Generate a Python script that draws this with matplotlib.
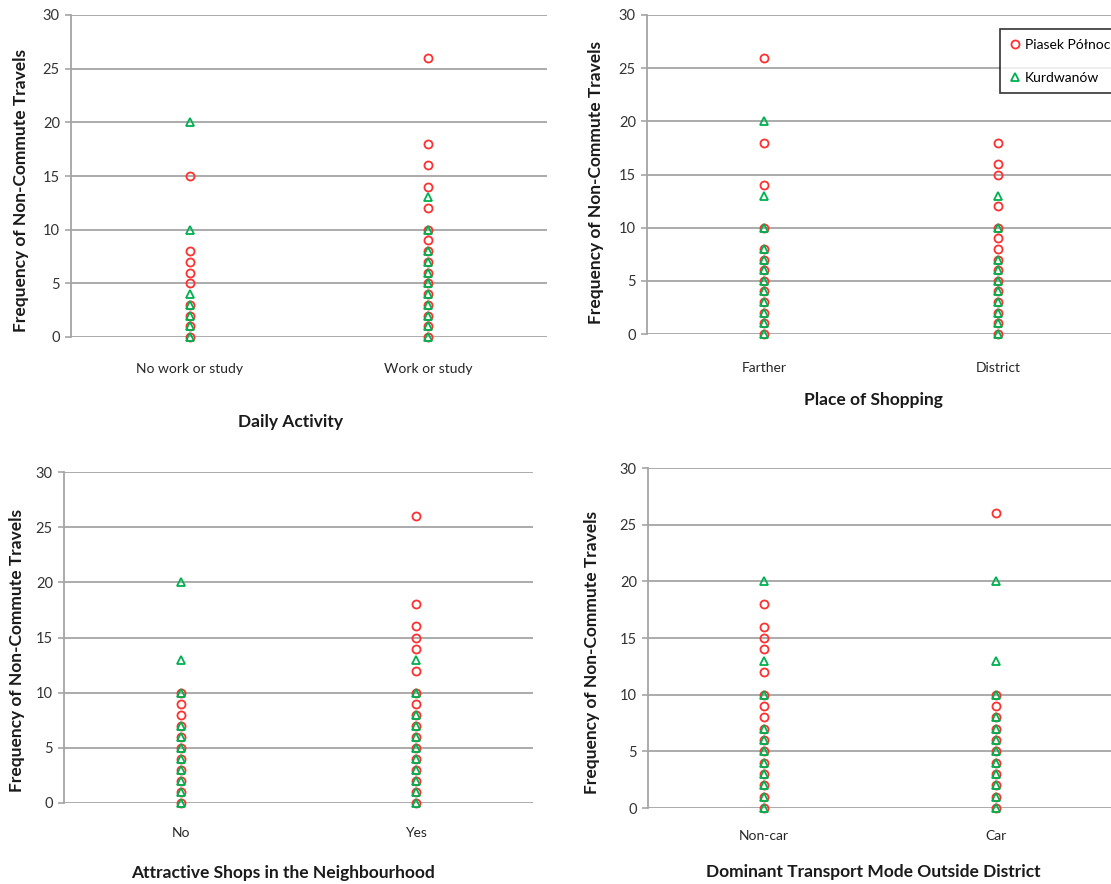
import matplotlib
matplotlib.use("Agg")
import matplotlib.pyplot as plt
from matplotlib.lines import Line2D

plt.rcParams['font.family'] = ['Lato', 'DejaVu Sans']

W, H = 1111, 884
RED = '#FF3030'
GREEN = '#00B050'
GRID = '#A5A5A5'

series_names = ['Piasek Północ', 'Kurdwanów']
y_label = 'Frequency of Non-Commute Travels'

# Panel 1: Daily Activity
p1_title = 'Daily Activity'
p1_categories = ['No work or study', 'Work or study']
p1_piasek = [[0, 1, 2, 3, 5, 6, 7, 8, 15],
             [0, 1, 2, 3, 4, 5, 6, 7, 8, 9, 10, 12, 14, 16, 18, 26]]
p1_kurdwanow = [[0, 1, 2, 3, 4, 10, 20],
                [0, 1, 2, 3, 4, 5, 6, 7, 8, 10, 13]]

# Panel 2: Place of Shopping
p2_title = 'Place of Shopping'
p2_categories = ['Farther', 'District']
p2_piasek = [[0, 1, 2, 3, 4, 5, 6, 7, 8, 10, 14, 18, 26],
             [0, 1, 2, 3, 4, 5, 6, 7, 8, 9, 10, 12, 15, 16, 18]]
p2_kurdwanow = [[0, 1, 2, 3, 4, 5, 6, 7, 8, 10, 13, 20],
                [0, 1, 2, 3, 4, 5, 6, 7, 10, 13]]

# Panel 3: Attractive Shops in the Neighbourhood
p3_title = 'Attractive Shops in the Neighbourhood'
p3_categories = ['No', 'Yes']
p3_piasek = [[0, 1, 2, 3, 4, 5, 6, 7, 8, 9, 10],
             [0, 1, 2, 3, 4, 5, 6, 7, 8, 9, 10, 12, 14, 15, 16, 18, 26]]
p3_kurdwanow = [[0, 1, 2, 3, 4, 5, 6, 7, 10, 13, 20],
                [0, 1, 2, 3, 4, 5, 6, 7, 8, 10, 13]]

# Panel 4: Dominant Transport Mode Outside District
p4_title = 'Dominant Transport Mode Outside District'
p4_categories = ['Non-car', 'Car']
p4_piasek = [[0, 1, 2, 3, 4, 5, 6, 7, 8, 9, 10, 12, 14, 15, 16, 18],
             [0, 1, 2, 3, 4, 5, 6, 7, 8, 9, 10, 26]]
p4_kurdwanow = [[0, 1, 2, 3, 4, 5, 6, 7, 10, 13, 20],
                [0, 1, 2, 3, 4, 5, 6, 7, 8, 10, 13, 20]]

panels = [
    dict(title=p1_title, cats=p1_categories, red=p1_piasek, green=p1_kurdwanow,
         box=(71, 15, 547, 337), ylab=(21, 190), xlab=(290, 422), tickpad=19),
    dict(title=p2_title, cats=p2_categories, red=p2_piasek, green=p2_kurdwanow,
         box=(647, 15, 1115, 334), ylab=(596, 183), xlab=(873, 400), tickpad=20),
    dict(title=p3_title, cats=p3_categories, red=p3_piasek, green=p3_kurdwanow,
         box=(64, 472, 533, 803), ylab=(17, 650), xlab=(283, 873), tickpad=17),
    dict(title=p4_title, cats=p4_categories, red=p4_piasek, green=p4_kurdwanow,
         box=(648, 468, 1112, 808), ylab=(592, 652), xlab=(873, 872), tickpad=16),
]

MS = 5.8
MEW = 1.3

fig = plt.figure(figsize=(W / 100, H / 100), dpi=100)

for i, p in enumerate(panels):
    l, t, r, b = p['box']
    ax = fig.add_axes([l / W, 1 - b / H, (r - l) / W, (b - t) / H])
    for k in range(2):
        xs = [k + 1] * len(p['red'][k])
        ax.plot(xs, p['red'][k], linestyle='none', marker='o', markersize=MS,
                markerfacecolor='none', markeredgecolor=RED, markeredgewidth=MEW,
                clip_on=False, zorder=3)
    for k in range(2):
        xs = [k + 1] * len(p['green'][k])
        ax.plot(xs, p['green'][k], linestyle='none', marker='^', markersize=MS,
                markerfacecolor='none', markeredgecolor=GREEN, markeredgewidth=MEW,
                clip_on=False, zorder=4)
    ax.set_xlim(0.5, 2.5)
    ax.set_ylim(0, 30)
    ax.set_yticks(range(0, 31, 5))
    ax.set_xticks([1, 2])
    ax.set_xticklabels(p['cats'], fontsize=10, color='#262626')
    ax.tick_params(axis='x', length=0, pad=p['tickpad'])
    ax.tick_params(axis='y', length=4, width=1.2, color=GRID, labelsize=10.5,
                   labelcolor='#333333', pad=4)
    ax.grid(axis='y', color=GRID, linewidth=1.3, zorder=0)
    ax.set_axisbelow(True)
    for s in ['top', 'right', 'bottom']:
        ax.spines[s].set_visible(False)
    ax.spines['left'].set_color(GRID)
    ax.spines['left'].set_linewidth(1.3)
    fig.text(p['ylab'][0] / W, 1 - p['ylab'][1] / H, y_label, rotation=90,
             ha='center', va='center', fontsize=12.5, fontweight='bold', color='#1a1a1a')
    fig.text(p['xlab'][0] / W, 1 - p['xlab'][1] / H, p['title'],
             ha='center', va='center', fontsize=12.5, fontweight='bold', color='#1a1a1a')

handles = [
    Line2D([], [], linestyle='none', marker='o', markersize=MS, markerfacecolor='none',
           markeredgecolor=RED, markeredgewidth=MEW),
    Line2D([], [], linestyle='none', marker='^', markersize=MS, markerfacecolor='none',
           markeredgecolor=GREEN, markeredgewidth=MEW),
]
leg = fig.legend(handles, series_names, loc='upper left',
                 bbox_to_anchor=(1000 / W, 1 - 29 / H), frameon=True, fancybox=False,
                 edgecolor='black', fontsize=10, labelspacing=1.5, handlelength=0.8,
                 handletextpad=0.3, borderpad=0.7, borderaxespad=0)
leg.get_frame().set_linewidth(1.2)

fig.savefig('out.png', dpi=100)
